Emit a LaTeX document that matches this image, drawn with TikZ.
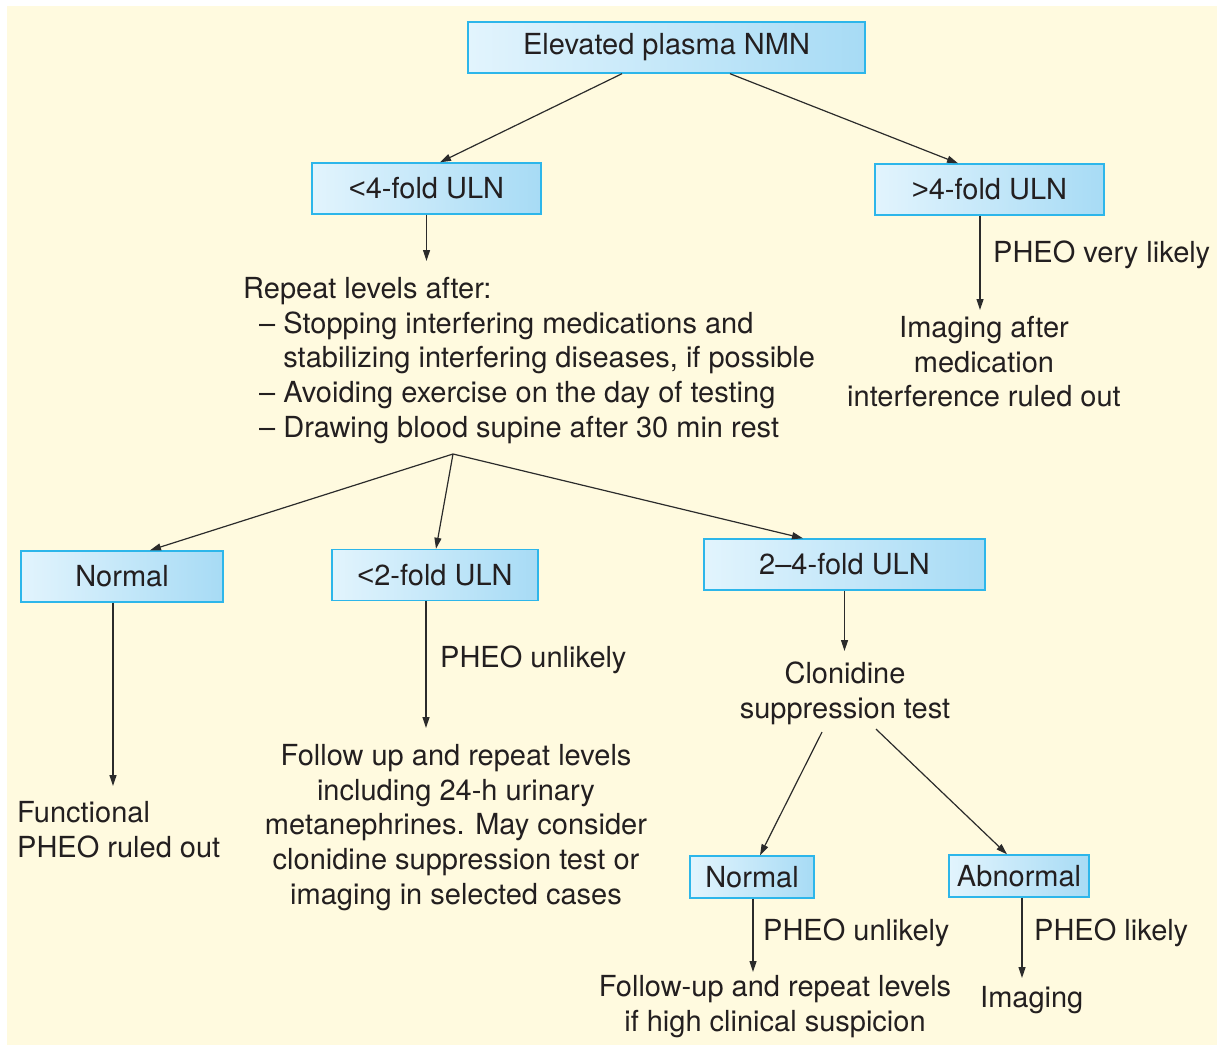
\documentclass[tikz,border=0pt]{standalone}
\usepackage{fontspec}
\setmainfont{TeX Gyre Heros}
\newfontfamily\symfont{Liberation Sans}
\usetikzlibrary{arrows.meta,calc}
\definecolor{bgcream}{HTML}{FFFADF}
\definecolor{boxline}{HTML}{2DB6EA}
\definecolor{boxL}{HTML}{E2F4FD}
\definecolor{boxR}{HTML}{A7DBF5}
\definecolor{ink}{HTML}{231F20}
\definecolor{wire}{HTML}{2B2B2B}
\begin{document}
\begin{tikzpicture}[x=1pt,y=-1pt,
  font=\fontsize{29}{34.7}\selectfont, text=ink,
  box/.style={draw=boxline, line width=1.4pt, left color=boxL, right color=boxR, inner sep=0pt, minimum height=51pt},
  smallbox/.style={box, minimum height=42pt},
  txt/.style={inner sep=0pt, align=center, anchor=north},
  txtl/.style={inner sep=0pt, align=left, anchor=north west},
  lab/.style={inner sep=0pt, anchor=base west},
  arr/.style={draw=wire, line width=1.2pt, -{Triangle[length=11pt,width=7pt]}}
]
\useasboundingbox (0,0) rectangle (1217,1046);
\fill[bgcream] (7,6) rectangle (1217,1045);

% boxes
\node[box, minimum width=397pt] (top) at (666.5,47.5) {Elevated plasma NMN};
\node[box, minimum width=229pt] (lt4) at (426.5,188.5) {{\symfont <}4-fold ULN};
\node[box, minimum width=229pt] (gt4) at (989.5,189.5) {{\symfont >}4-fold ULN};
\node[box, minimum width=202pt] (norm1) at (122,576.5) {Normal};
\node[box, minimum width=206pt] (lt2) at (435,575) {{\symfont <}2-fold ULN};
\node[box, minimum width=281pt] (mid) at (844.5,564.5) {2–4-fold ULN};
\node[smallbox, minimum width=124pt] (norm2) at (752,877) {Normal};
\node[smallbox, minimum width=140pt] (abn) at (1019,876) {Abnormal};

% text blocks
\node[txtl] (rep) at (243,277) {Repeat levels after:\\
\hspace*{16pt}– Stopping interfering medications and\\
\hspace*{16pt}\phantom{– }stabilizing interfering diseases, if possible\\
\hspace*{16pt}– Avoiding exercise on the day of testing\\
\hspace*{16pt}– Drawing blood supine after 30 min rest};
\node[txt] (img) at (984,316) {Imaging after\\medication\\interference ruled out};
\node[txtl] (func) at (17,801) {Functional\\PHEO ruled out};
\node[txt] (follow) at (456,744) {Follow up and repeat levels\\including 24-h urinary\\metanephrines. May consider\\clonidine suppression test or\\imaging in selected cases};
\node[txt] (clon) at (845,662) {Clonidine\\suppression test};
\node[txt] (fu2) at (775,975) {Follow-up and repeat levels\\if high clinical suspicion};
\node[txtl] (imaging) at (980,986) {Imaging};

% labels
\node[lab] (l1) at (993,262) {PHEO very likely};
\node[lab] (l2) at (440,667) {PHEO unlikely};
\node[lab] (l3) at (763,940) {PHEO unlikely};
\node[lab] (l4) at (1034,940) {PHEO likely};

\coordinate (fan) at (453,454);

% connectors
\draw[arr] ([xshift=-44.5pt]top.south) -- ([xshift=13.5pt]lt4.north);
\draw[arr] ([xshift=63.5pt]top.south) -- ([xshift=-31.5pt]gt4.north);
\draw[arr, shorten >=16pt] (lt4.south) -- (lt4.south |- rep.north);
\draw[arr, shorten >=6pt] ([xshift=-9.5pt]gt4.south) -- ([xshift=-9.5pt]gt4.south |- img.north);
\draw[arr] (fan) -- ([xshift=28pt]norm1.north);
\draw[arr] (fan) -- ([xshift=1pt]lt2.north);
\draw[arr] (fan) -- ([xshift=-41.5pt]mid.north);
\draw[arr, shorten >=15pt] ([xshift=-9pt]norm1.south) -- ([xshift=-9pt]norm1.south |- func.north);
\draw[arr, shorten >=16pt] ([xshift=-9pt]lt2.south) -- ([xshift=-9pt]lt2.south |- follow.north);
\draw[arr, shorten >=11pt] (mid.south) -- (mid.south |- clon.north);
\draw[arr] ($(clon.south)+(-23,7)$) -- ([xshift=8pt]norm2.north);
\draw[arr] ($(clon.south)+(31,4)$) -- ([xshift=-12pt]abn.north);
\draw[arr, shorten >=3pt] ([xshift=1pt]norm2.south) -- ([xshift=1pt]norm2.south |- fu2.north);
\draw[arr, shorten >=8pt] ([xshift=3pt]abn.south) -- ([xshift=3pt]abn.south |- imaging.north);
\end{tikzpicture}
\end{document}
